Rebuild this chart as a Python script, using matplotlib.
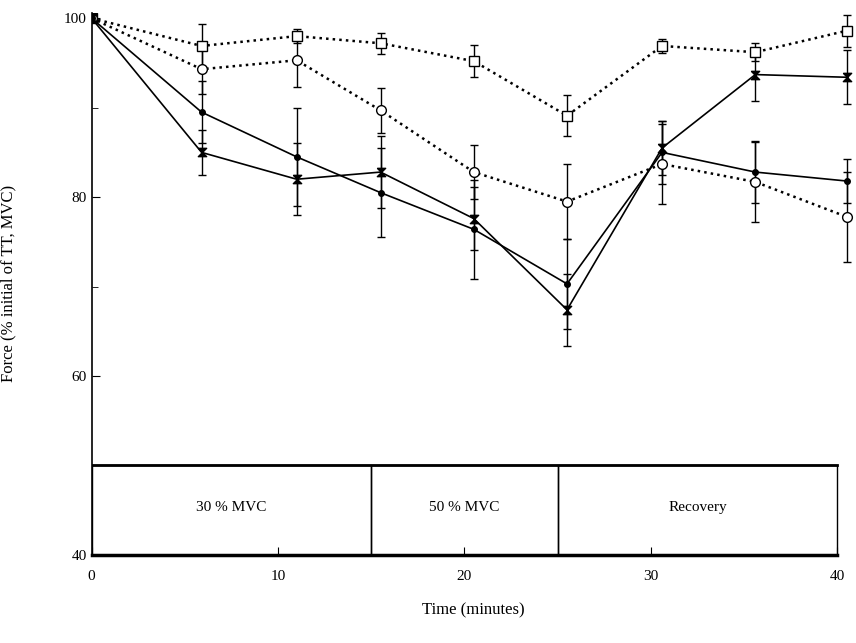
import numpy as np
import matplotlib.pyplot as plt
from matplotlib.patches import Rectangle

# Time points (minutes) and group means / errors (% of initial)
time = [0, 5.9, 11.0, 15.5, 20.5, 25.5, 30.6, 35.6, 40.5]

sq_mean = [100, 96.9, 98.0, 97.2, 95.2, 89.1, 96.9, 96.2, 98.6]
sq_err = [0, 2.5, 0.8, 1.2, 1.8, 2.3, 0.8, 1.0, 1.8]

oc_mean = [100, 94.3, 95.3, 89.7, 82.8, 79.5, 83.7, 81.7, 77.8]
oc_err = [0, 2.8, 3.0, 2.5, 3.0, 4.2, 4.5, 4.5, 5.0]

fc_mean = [100, 89.5, 84.5, 80.5, 76.4, 70.3, 85.0, 82.8, 81.8]
fc_err = [0, 3.5, 5.5, 5.0, 5.5, 5.0, 3.5, 3.5, 2.5]

bt_mean = [100, 85.0, 82.0, 82.8, 77.6, 67.4, 85.5, 93.7, 93.4]
bt_err = [0, 2.5, 4.0, 4.0, 3.5, 4.0, 3.0, 3.0, 3.0]

phases = ['30 % MVC', '50 % MVC', 'Recovery']
phase_edges = [0, 15, 25, 40]

plt.rcParams['font.family'] = ['Liberation Serif', 'DejaVu Serif']

fig = plt.figure(figsize=(8.56, 6.43), dpi=100)
ax = fig.add_axes([0.107, 0.137, 0.893, 0.843])

bowtie = [(-1, 1), (1, 1), (-1, -1), (1, -1), (-1, 1)]

err_kw = dict(ecolor='black', elinewidth=1.0, capsize=3, capthick=1.0)
ax.errorbar(time, sq_mean, yerr=sq_err, color='black', ls=':', lw=1.8,
            marker='s', ms=7, mfc='white', mec='black', mew=1.0, **err_kw)
ax.errorbar(time, oc_mean, yerr=oc_err, color='black', ls=':', lw=1.8,
            marker='o', ms=7, mfc='white', mec='black', mew=1.0, **err_kw)
ax.errorbar(time, fc_mean, yerr=fc_err, color='black', ls='-', lw=1.2,
            marker='o', ms=4, mfc='black', mec='black', **err_kw)
ax.errorbar(time, bt_mean, yerr=bt_err, color='black', ls='-', lw=1.2,
            marker=bowtie, ms=6, mfc='black', mec='black', **err_kw)

# protocol box along the bottom
for i, name in enumerate(phases):
    x0, x1 = phase_edges[i], phase_edges[i + 1]
    ax.add_patch(Rectangle((x0, 40), x1 - x0, 10, fill=False,
                           ec='black', lw=1.0, zorder=3))
    ax.text((x0 + x1) / 2, 45.3, name, ha='center', va='center', fontsize=11)
ax.plot([0, 40], [50, 50], color='black', lw=2.0, zorder=4)
ax.plot([0, 40], [40, 40], color='black', lw=2.5, zorder=4, clip_on=False)

ax.set_xlim(0, 41)
ax.set_ylim(40, 100.6)
ax.spines['top'].set_visible(False)
ax.spines['right'].set_visible(False)
ax.spines['bottom'].set_visible(False)
ax.spines['left'].set_linewidth(1.2)

ax.set_yticks([40, 60, 80, 100])
ax.set_yticks([50, 70, 90], minor=True)
ax.set_xticks([0, 10, 20, 30, 40])
ax.tick_params(axis='both', direction='in', labelsize=11, length=6)
ax.tick_params(axis='y', which='minor', direction='in', length=4)
ax.tick_params(axis='x', pad=11)

ax.set_xlabel('Time (minutes)', fontsize=12, labelpad=14)
ax.set_ylabel('Force (% initial of TT, MVC)', fontsize=12, labelpad=34)

fig.savefig('out.png', dpi=100)
